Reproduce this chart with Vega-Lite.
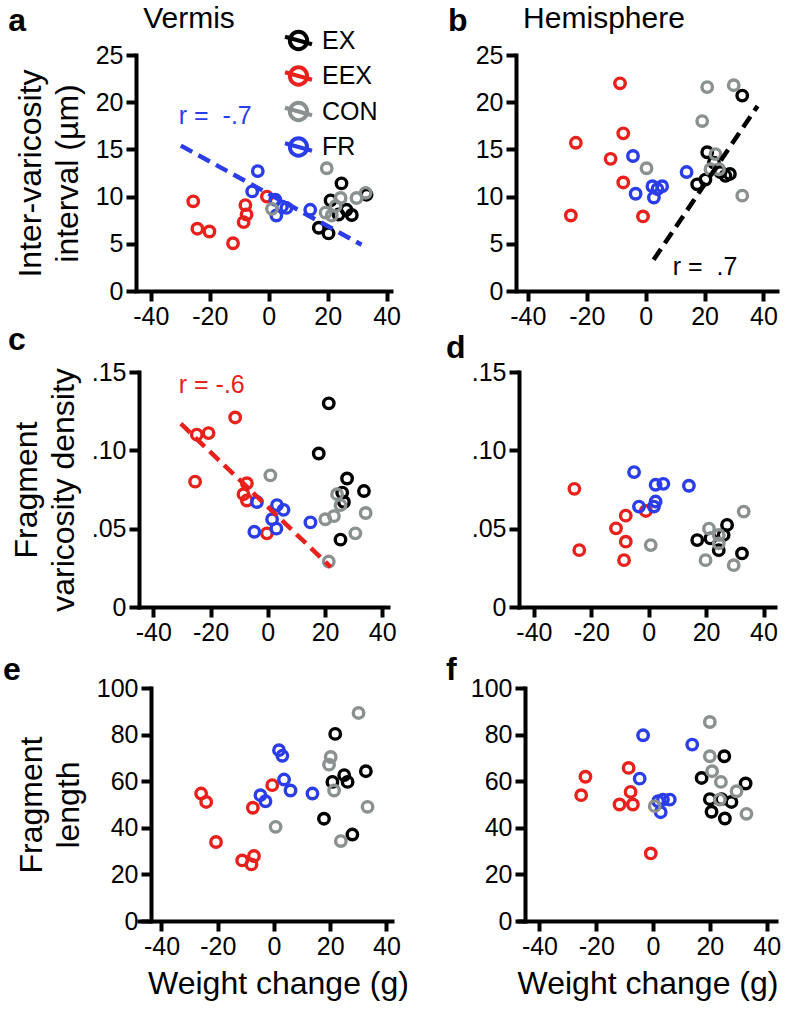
{
  "$schema": "https://vega.github.io/schema/vega-lite/v6.json",
  "padding": {"left": 2, "top": 4, "right": 4, "bottom": 4},
  "background": "white",
  "config": {
    "font": "Liberation Sans",
    "view": {"stroke": null},
    "axis": {
      "grid": false,
      "domainColor": "#000000",
      "domainWidth": 4,
      "domainCap": "square",
      "tickColor": "#000000",
      "tickWidth": 4,
      "tickSize": 10,
      "labelFont": "Liberation Sans",
      "labelFontSize": 25,
      "labelColor": "#000000",
      "labelPadding": 3,
      "labelFlush": false,
      "labelOverlap": false,
      "titleFont": "Liberation Sans",
      "titleFontSize": 32,
      "titleFontWeight": "normal",
      "titleColor": "#000000",
      "titleLineHeight": 37,
      "titlePadding": 11
    }
  },
  "datasets": {
    "pa": [
      {"g": "EX", "x": 17.0, "y": 6.7}, {"g": "EX", "x": 20.3, "y": 6.1}, {"g": "EX", "x": 24.7, "y": 11.4}, {"g": "EX", "x": 21.0, "y": 9.6},
      {"g": "EX", "x": 23.7, "y": 8.1}, {"g": "EX", "x": 26.4, "y": 8.6}, {"g": "EX", "x": 28.2, "y": 8.05}, {"g": "EX", "x": 33.2, "y": 10.2},
      {"g": "EEX", "x": -25.6, "y": 9.5}, {"g": "EEX", "x": -24.2, "y": 6.6}, {"g": "EEX", "x": -20.1, "y": 6.3}, {"g": "EEX", "x": -12.1, "y": 5.06},
      {"g": "EEX", "x": -8.5, "y": 7.3}, {"g": "EEX", "x": -7.5, "y": 8.1}, {"g": "EEX", "x": -7.9, "y": 9.1}, {"g": "EEX", "x": -0.6, "y": 10.0},
      {"g": "FR", "x": -3.7, "y": 12.7}, {"g": "FR", "x": -5.6, "y": 10.55}, {"g": "FR", "x": 2.25, "y": 9.67}, {"g": "FR", "x": 4.5, "y": 8.96},
      {"g": "FR", "x": 6.0, "y": 8.8}, {"g": "FR", "x": 2.6, "y": 8.0}, {"g": "FR", "x": 14.1, "y": 8.6},
      {"g": "CON", "x": 1.1, "y": 8.7}, {"g": "CON", "x": 19.7, "y": 13.0}, {"g": "CON", "x": 32.9, "y": 10.4}, {"g": "CON", "x": 29.8, "y": 9.85},
      {"g": "CON", "x": 24.4, "y": 9.85}, {"g": "CON", "x": 22.7, "y": 9.0}, {"g": "CON", "x": 19.3, "y": 8.3}, {"g": "CON", "x": 21.4, "y": 8.0}
    ],
    "pb": [
      {"g": "EX", "x": 32.8, "y": 20.7}, {"g": "EX", "x": 20.9, "y": 14.7}, {"g": "EX", "x": 17.5, "y": 11.3}, {"g": "EX", "x": 20.3, "y": 11.8},
      {"g": "EX", "x": 25.4, "y": 12.6}, {"g": "EX", "x": 27.1, "y": 12.2}, {"g": "EX", "x": 28.6, "y": 12.4}, {"g": "EX", "x": 23.2, "y": 13.6},
      {"g": "EEX", "x": -23.7, "y": 15.7}, {"g": "EEX", "x": -25.4, "y": 8.0}, {"g": "EEX", "x": -8.7, "y": 22.0}, {"g": "EEX", "x": -7.6, "y": 16.7},
      {"g": "EEX", "x": -11.9, "y": 14.0}, {"g": "EEX", "x": -7.6, "y": 11.5}, {"g": "EEX", "x": -0.9, "y": 7.9},
      {"g": "FR", "x": -4.3, "y": 14.3}, {"g": "FR", "x": -3.4, "y": 10.3}, {"g": "FR", "x": 2.3, "y": 11.1}, {"g": "FR", "x": 4.0, "y": 10.8},
      {"g": "FR", "x": 2.8, "y": 9.9}, {"g": "FR", "x": 5.6, "y": 11.1}, {"g": "FR", "x": 13.9, "y": 12.6},
      {"g": "CON", "x": 0.3, "y": 13.0}, {"g": "CON", "x": 20.9, "y": 21.6}, {"g": "CON", "x": 19.2, "y": 18.0}, {"g": "CON", "x": 29.9, "y": 21.8},
      {"g": "CON", "x": 23.7, "y": 14.5}, {"g": "CON", "x": 22.0, "y": 12.9}, {"g": "CON", "x": 24.9, "y": 12.9}, {"g": "CON", "x": 32.8, "y": 10.1}
    ],
    "pc": [
      {"g": "EX", "x": 21.3, "y": 0.130}, {"g": "EX", "x": 17.8, "y": 0.098}, {"g": "EX", "x": 27.7, "y": 0.082}, {"g": "EX", "x": 33.6, "y": 0.074},
      {"g": "EX", "x": 26.0, "y": 0.073}, {"g": "EX", "x": 26.6, "y": 0.067}, {"g": "EX", "x": 25.4, "y": 0.043},
      {"g": "EEX", "x": -25.4, "y": 0.080}, {"g": "EEX", "x": -24.8, "y": 0.110}, {"g": "EEX", "x": -20.7, "y": 0.111}, {"g": "EEX", "x": -11.4, "y": 0.121},
      {"g": "EEX", "x": -7.3, "y": 0.079}, {"g": "EEX", "x": -8.5, "y": 0.072}, {"g": "EEX", "x": -7.3, "y": 0.068}, {"g": "EEX", "x": -0.3, "y": 0.047},
      {"g": "FR", "x": -3.8, "y": 0.067}, {"g": "FR", "x": -4.7, "y": 0.048}, {"g": "FR", "x": 3.2, "y": 0.065}, {"g": "FR", "x": 5.5, "y": 0.062},
      {"g": "FR", "x": 1.5, "y": 0.056}, {"g": "FR", "x": 3.0, "y": 0.050}, {"g": "FR", "x": 14.9, "y": 0.054},
      {"g": "CON", "x": 0.9, "y": 0.084}, {"g": "CON", "x": 21.3, "y": 0.029}, {"g": "CON", "x": 20.1, "y": 0.056}, {"g": "CON", "x": 23.1, "y": 0.058},
      {"g": "CON", "x": 25.4, "y": 0.065}, {"g": "CON", "x": 24.2, "y": 0.072}, {"g": "CON", "x": 30.6, "y": 0.047}, {"g": "CON", "x": 34.2, "y": 0.060}
    ],
    "pd": [
      {"g": "EX", "x": 16.9, "y": 0.0427}, {"g": "EX", "x": 27.3, "y": 0.0524}, {"g": "EX", "x": 32.5, "y": 0.0342}, {"g": "EX", "x": 24.4, "y": 0.0363},
      {"g": "EX", "x": 21.5, "y": 0.0438}, {"g": "EX", "x": 26.1, "y": 0.046},
      {"g": "EEX", "x": -25.9, "y": 0.0754}, {"g": "EEX", "x": -24.2, "y": 0.0363}, {"g": "EEX", "x": -11.4, "y": 0.0502}, {"g": "EEX", "x": -8.0, "y": 0.0583},
      {"g": "EEX", "x": -8.0, "y": 0.0417}, {"g": "EEX", "x": -8.6, "y": 0.0299}, {"g": "EEX", "x": -1.0, "y": 0.0613},
      {"g": "FR", "x": -5.1, "y": 0.0861}, {"g": "FR", "x": -3.4, "y": 0.0641}, {"g": "FR", "x": 1.8, "y": 0.0641}, {"g": "FR", "x": 2.4, "y": 0.0673},
      {"g": "FR", "x": 2.4, "y": 0.078}, {"g": "FR", "x": 5.1, "y": 0.0786}, {"g": "FR", "x": 14.0, "y": 0.0774},
      {"g": "CON", "x": 0.7, "y": 0.0395}, {"g": "CON", "x": 19.8, "y": 0.0299}, {"g": "CON", "x": 21.0, "y": 0.050}, {"g": "CON", "x": 24.4, "y": 0.046},
      {"g": "CON", "x": 24.4, "y": 0.0406}, {"g": "CON", "x": 29.6, "y": 0.0267}, {"g": "CON", "x": 33.1, "y": 0.0609}
    ],
    "pe": [
      {"g": "EX", "x": 21.8, "y": 80.3}, {"g": "EX", "x": 17.8, "y": 43.9}, {"g": "EX", "x": 20.8, "y": 59.7}, {"g": "EX", "x": 25.0, "y": 62.6},
      {"g": "EX", "x": 26.2, "y": 59.7}, {"g": "EX", "x": 32.7, "y": 64.3}, {"g": "EX", "x": 27.9, "y": 37.1},
      {"g": "EEX", "x": -25.9, "y": 54.7}, {"g": "EEX", "x": -24.1, "y": 51.1}, {"g": "EEX", "x": -20.6, "y": 33.9}, {"g": "EEX", "x": -11.3, "y": 26.0},
      {"g": "EEX", "x": -8.0, "y": 24.3}, {"g": "EEX", "x": -7.1, "y": 27.9}, {"g": "EEX", "x": -7.5, "y": 48.6}, {"g": "EEX", "x": -0.6, "y": 58.3},
      {"g": "FR", "x": 1.8, "y": 73.3}, {"g": "FR", "x": 3.0, "y": 70.9}, {"g": "FR", "x": -4.8, "y": 54.0}, {"g": "FR", "x": -3.0, "y": 51.4},
      {"g": "FR", "x": 3.6, "y": 60.7}, {"g": "FR", "x": 5.9, "y": 56.0}, {"g": "FR", "x": 13.7, "y": 54.7},
      {"g": "CON", "x": 0.6, "y": 40.4}, {"g": "CON", "x": 30.1, "y": 89.3}, {"g": "CON", "x": 20.2, "y": 70.4}, {"g": "CON", "x": 19.6, "y": 67.1},
      {"g": "CON", "x": 21.4, "y": 56.0}, {"g": "CON", "x": 33.3, "y": 49.0}, {"g": "CON", "x": 23.8, "y": 34.3}
    ],
    "pf": [
      {"g": "EX", "x": 25.1, "y": 70.7}, {"g": "EX", "x": 17.1, "y": 61.4}, {"g": "EX", "x": 20.0, "y": 52.3}, {"g": "EX", "x": 20.6, "y": 46.9},
      {"g": "EX", "x": 25.3, "y": 44.0}, {"g": "EX", "x": 24.1, "y": 52.3}, {"g": "EX", "x": 27.6, "y": 51.1}, {"g": "EX", "x": 32.6, "y": 59.0},
      {"g": "EEX", "x": -25.3, "y": 54.0}, {"g": "EEX", "x": -23.8, "y": 61.9}, {"g": "EEX", "x": -8.6, "y": 65.7}, {"g": "EEX", "x": -7.9, "y": 55.4},
      {"g": "EEX", "x": -11.8, "y": 50.0}, {"g": "EEX", "x": -7.1, "y": 50.0}, {"g": "EEX", "x": -0.8, "y": 29.0},
      {"g": "FR", "x": -3.5, "y": 79.7}, {"g": "FR", "x": -4.7, "y": 61.1}, {"g": "FR", "x": 1.8, "y": 51.4}, {"g": "FR", "x": 3.5, "y": 52.1},
      {"g": "FR", "x": 5.9, "y": 52.1}, {"g": "FR", "x": 2.7, "y": 46.7}, {"g": "FR", "x": 13.8, "y": 75.7},
      {"g": "CON", "x": 0.6, "y": 49.3}, {"g": "CON", "x": 20.0, "y": 85.4}, {"g": "CON", "x": 20.0, "y": 70.7}, {"g": "CON", "x": 20.8, "y": 64.3},
      {"g": "CON", "x": 23.9, "y": 59.7}, {"g": "CON", "x": 23.5, "y": 52.1}, {"g": "CON", "x": 29.4, "y": 55.7}, {"g": "CON", "x": 32.9, "y": 46.0}
    ],
    "fits": [
      {"p": "a", "x": -29.8, "y": 15.4}, {"p": "a", "x": 31.5, "y": 4.9},
      {"p": "b", "x": 2.7, "y": 3.3}, {"p": "b", "x": 38.0, "y": 19.6},
      {"p": "c", "x": -30.4, "y": 0.117}, {"p": "c", "x": 22.0, "y": 0.0255}
    ]
  },
  "columns": 2,
  "bounds": "flush",
  "align": "each",
  "spacing": {"row": 81, "column": 127},
  "resolve": {
    "scale": {"x": "independent", "y": "independent", "color": "independent"},
    "axis": {"x": "independent", "y": "independent"},
    "legend": {"color": "independent"}
  },
  "concat": [
    {
      "width": 252, "height": 236,
      "layer": [
        {
          "data": {"name": "pa"},
          "mark": {"type": "point", "shape": "circle", "filled": false, "size": 110, "strokeWidth": 3.4, "opacity": 1},
          "encoding": {
            "x": {"field": "x", "type": "quantitative", "scale": {"domain": [-44, 41.5], "nice": false, "zero": false},
                  "axis": {"values": [-40, -20, 0, 20, 40], "labelExpr": "'' + datum.value", "title": null}},
            "y": {"field": "y", "type": "quantitative", "scale": {"domain": [0, 25], "nice": false, "zero": false},
                  "axis": {"values": [0, 5, 10, 15, 20, 25], "labelExpr": "'' + datum.value", "title": ["Inter-varicosity", "interval (µm)"], "offset": 3}},
            "color": {"field": "g", "type": "nominal",
                      "scale": {"domain": ["EX", "EEX", "CON", "FR"], "range": ["#000000", "#e8211c", "#8b9090", "#2b3de8"]},
                      "legend": {"orient": "none", "legendX": 144, "legendY": -30, "title": null,
                                 "symbolType": "M-0.64,0 A0.64,0.64 0 1,1 0.64,0 A0.64,0.64 0 1,1 -0.64,0 M-1,-0.28 L1,0.28",
                                 "symbolSize": 729, "symbolStrokeWidth": 4, "symbolFillColor": "transparent",
                                 "labelFontSize": 25, "labelColor": "#000000", "labelOffset": 8, "rowPadding": 0.5, "labelFont": "Liberation Sans"}}
          }
        },
        {
          "data": {"name": "fits"},
          "transform": [{"filter": "datum.p == 'a'"}],
          "mark": {"type": "line", "color": "#2b3de8", "strokeWidth": 4.5, "strokeDash": [13, 7]},
          "encoding": {"x": {"field": "x", "type": "quantitative"}, "y": {"field": "y", "type": "quantitative"}}
        },
        {
          "data": {"values": [{}]},
          "mark": {"type": "text", "text": "a", "fontSize": 32, "fontWeight": "bold", "align": "left", "baseline": "alphabetic", "color": "#000000"},
          "encoding": {"x": {"datum": -88.4, "type": "quantitative"}, "y": {"datum": 27.5, "type": "quantitative"}}
        },
        {
          "data": {"values": [{}]},
          "mark": {"type": "text", "text": "Vermis", "fontSize": 30, "align": "left", "baseline": "alphabetic", "color": "#000000"},
          "encoding": {"x": {"datum": -42.6, "type": "quantitative"}, "y": {"datum": 27.86, "type": "quantitative"}}
        },
        {
          "data": {"values": [{}]},
          "mark": {"type": "text", "text": "r = \u00a0-.7", "fontSize": 25, "align": "left", "baseline": "alphabetic", "color": "#2b3de8"},
          "encoding": {"x": {"datum": -30.5, "type": "quantitative"}, "y": {"datum": 17.7, "type": "quantitative"}}
        }
      ]
    },
    {
      "width": 258, "height": 236,
      "layer": [
        {
          "data": {"name": "pb"},
          "mark": {"type": "point", "shape": "circle", "filled": false, "size": 110, "strokeWidth": 3.4, "opacity": 1},
          "encoding": {
            "x": {"field": "x", "type": "quantitative", "scale": {"domain": [-43, 44.6], "nice": false, "zero": false},
                  "axis": {"values": [-40, -20, 0, 20, 40], "labelExpr": "'' + datum.value", "title": null}},
            "y": {"field": "y", "type": "quantitative", "scale": {"domain": [0, 25], "nice": false, "zero": false},
                  "axis": {"values": [0, 5, 10, 15, 20, 25], "labelExpr": "'' + datum.value", "title": null, "offset": 3}},
            "color": {"field": "g", "type": "nominal",
                      "scale": {"domain": ["EX", "EEX", "CON", "FR"], "range": ["#000000", "#e8211c", "#8b9090", "#2b3de8"]},
                      "legend": null}
          }
        },
        {
          "data": {"name": "fits"},
          "transform": [{"filter": "datum.p == 'b'"}],
          "mark": {"type": "line", "color": "#000000", "strokeWidth": 4.5, "strokeDash": [13, 7]},
          "encoding": {"x": {"field": "x", "type": "quantitative"}, "y": {"field": "y", "type": "quantitative"}}
        },
        {
          "data": {"values": [{}]},
          "mark": {"type": "text", "text": "b", "fontSize": 32, "fontWeight": "bold", "align": "left", "baseline": "alphabetic", "color": "#000000"},
          "encoding": {"x": {"datum": -67.1, "type": "quantitative"}, "y": {"datum": 27.5, "type": "quantitative"}}
        },
        {
          "data": {"values": [{}]},
          "mark": {"type": "text", "text": "Hemisphere", "fontSize": 30, "align": "left", "baseline": "alphabetic", "color": "#000000"},
          "encoding": {"x": {"datum": -41.6, "type": "quantitative"}, "y": {"datum": 27.86, "type": "quantitative"}}
        },
        {
          "data": {"values": [{}]},
          "mark": {"type": "text", "text": "r = \u00a0.7", "fontSize": 25, "align": "left", "baseline": "alphabetic", "color": "#000000"},
          "encoding": {"x": {"datum": 9.2, "type": "quantitative"}, "y": {"datum": 1.7, "type": "quantitative"}}
        }
      ]
    },
    {
      "width": 249, "height": 235,
      "layer": [
        {
          "data": {"name": "pc"},
          "mark": {"type": "point", "shape": "circle", "filled": false, "size": 110, "strokeWidth": 3.4, "opacity": 1},
          "encoding": {
            "x": {"field": "x", "type": "quantitative", "scale": {"domain": [-45, 42], "nice": false, "zero": false},
                  "axis": {"values": [-40, -20, 0, 20, 40], "labelExpr": "'' + datum.value", "title": null}},
            "y": {"field": "y", "type": "quantitative", "scale": {"domain": [0, 0.15], "nice": false, "zero": false},
                  "axis": {"values": [0, 0.05, 0.1, 0.15], "labelExpr": "datum.value == 0 ? '0' : replace(format(datum.value, '.2f'), '0.', '.')", "title": ["Fragment", "varicosity density"]}},
            "color": {"field": "g", "type": "nominal",
                      "scale": {"domain": ["EX", "EEX", "CON", "FR"], "range": ["#000000", "#e8211c", "#8b9090", "#2b3de8"]},
                      "legend": null}
          }
        },
        {
          "data": {"name": "fits"},
          "transform": [{"filter": "datum.p == 'c'"}],
          "mark": {"type": "line", "color": "#e8211c", "strokeWidth": 4.5, "strokeDash": [13, 7]},
          "encoding": {"x": {"field": "x", "type": "quantitative"}, "y": {"field": "y", "type": "quantitative"}}
        },
        {
          "data": {"values": [{}]},
          "mark": {"type": "text", "text": "c", "fontSize": 32, "fontWeight": "bold", "align": "left", "baseline": "alphabetic", "color": "#000000"},
          "encoding": {"x": {"datum": -90.8, "type": "quantitative"}, "y": {"datum": 0.164, "type": "quantitative"}}
        },
        {
          "data": {"values": [{}]},
          "mark": {"type": "text", "text": "r = -.6", "fontSize": 25, "align": "left", "baseline": "alphabetic", "color": "#e8211c"},
          "encoding": {"x": {"datum": -31.1, "type": "quantitative"}, "y": {"datum": 0.1366, "type": "quantitative"}}
        }
      ]
    },
    {
      "width": 256, "height": 235,
      "layer": [
        {
          "data": {"name": "pd"},
          "mark": {"type": "point", "shape": "circle", "filled": false, "size": 110, "strokeWidth": 3.4, "opacity": 1},
          "encoding": {
            "x": {"field": "x", "type": "quantitative", "scale": {"domain": [-45.2, 44], "nice": false, "zero": false},
                  "axis": {"values": [-40, -20, 0, 20, 40], "labelExpr": "'' + datum.value", "title": null}},
            "y": {"field": "y", "type": "quantitative", "scale": {"domain": [0, 0.15], "nice": false, "zero": false},
                  "axis": {"values": [0, 0.05, 0.1, 0.15], "labelExpr": "datum.value == 0 ? '0' : replace(format(datum.value, '.2f'), '0.', '.')", "title": null}},
            "color": {"field": "g", "type": "nominal",
                      "scale": {"domain": ["EX", "EEX", "CON", "FR"], "range": ["#000000", "#e8211c", "#8b9090", "#2b3de8"]},
                      "legend": null}
          }
        },
        {
          "data": {"values": [{}]},
          "mark": {"type": "text", "text": "d", "fontSize": 32, "fontWeight": "bold", "align": "left", "baseline": "alphabetic", "color": "#000000"},
          "encoding": {"x": {"datum": -70.6, "type": "quantitative"}, "y": {"datum": 0.159, "type": "quantitative"}}
        }
      ]
    },
    {
      "width": 253, "height": 233,
      "layer": [
        {
          "data": {"name": "pe"},
          "mark": {"type": "point", "shape": "circle", "filled": false, "size": 110, "strokeWidth": 3.4, "opacity": 1},
          "encoding": {
            "x": {"field": "x", "type": "quantitative", "scale": {"domain": [-48, 42], "nice": false, "zero": false},
                  "axis": {"values": [-40, -20, 0, 20, 40], "labelExpr": "'' + datum.value", "title": "Weight change (g)", "titlePadding": 9, "titleX": 139}},
            "y": {"field": "y", "type": "quantitative", "scale": {"domain": [0, 100], "nice": false, "zero": false},
                  "axis": {"values": [0, 20, 40, 60, 80, 100], "labelExpr": "'' + datum.value", "title": ["Fragment", "length"], "offset": -12}},
            "color": {"field": "g", "type": "nominal",
                      "scale": {"domain": ["EX", "EEX", "CON", "FR"], "range": ["#000000", "#e8211c", "#8b9090", "#2b3de8"]},
                      "legend": null}
          }
        },
        {
          "data": {"values": [{}]},
          "mark": {"type": "text", "text": "e", "fontSize": 32, "fontWeight": "bold", "align": "left", "baseline": "alphabetic", "color": "#000000"},
          "encoding": {"x": {"datum": -96.4, "type": "quantitative"}, "y": {"datum": 103.4, "type": "quantitative"}}
        }
      ]
    },
    {
      "width": 257, "height": 233,
      "layer": [
        {
          "data": {"name": "pf"},
          "mark": {"type": "point", "shape": "circle", "filled": false, "size": 110, "strokeWidth": 3.4, "opacity": 1},
          "encoding": {
            "x": {"field": "x", "type": "quantitative", "scale": {"domain": [-47.2, 43.3], "nice": false, "zero": false},
                  "axis": {"values": [-40, -20, 0, 20, 40], "labelExpr": "'' + datum.value", "title": "Weight change (g)", "titlePadding": 9}},
            "y": {"field": "y", "type": "quantitative", "scale": {"domain": [0, 100], "nice": false, "zero": false},
                  "axis": {"values": [0, 20, 40, 60, 80, 100], "labelExpr": "'' + datum.value", "title": null, "offset": -6}},
            "color": {"field": "g", "type": "nominal",
                      "scale": {"domain": ["EX", "EEX", "CON", "FR"], "range": ["#000000", "#e8211c", "#8b9090", "#2b3de8"]},
                      "legend": null}
          }
        },
        {
          "data": {"values": [{}]},
          "mark": {"type": "text", "text": "f", "fontSize": 32, "fontWeight": "bold", "align": "left", "baseline": "alphabetic", "color": "#000000"},
          "encoding": {"x": {"datum": -72.9, "type": "quantitative"}, "y": {"datum": 103.4, "type": "quantitative"}}
        }
      ]
    }
  ]
}
